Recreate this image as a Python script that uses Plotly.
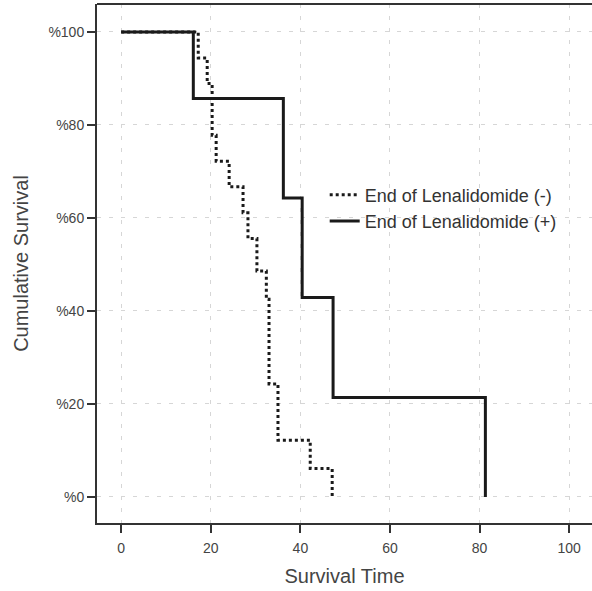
import plotly.graph_objects as go

# Kaplan-Meier step data
neg_time = [0, 17.2, 19.2, 20.3, 21.2, 24.1, 27.2, 28.3, 30.3, 32.4, 33.0, 35.0, 42.2, 47.1]
neg_surv = [100, 94.4, 88.9, 77.8, 72.2, 66.7, 61.1, 55.6, 48.6, 42.5, 24.3, 12.2, 6.1, 0]
pos_time = [0, 16.1, 36.2, 40.4, 47.3, 81.3]
pos_surv = [100, 85.7, 64.3, 42.9, 21.4, 0]

series_names = ["End of Lenalidomide (-)", "End of Lenalidomide (+)"]
x_ticks = [0, 20, 40, 60, 80, 100]
y_ticks = [0, 20, 40, 60, 80, 100]
y_tick_labels = ["%0", "%20", "%40", "%60", "%80", "%100"]

fig = go.Figure()
fig.add_trace(go.Scatter(x=neg_time, y=neg_surv, mode="lines", line_shape="hv",
                         name=series_names[0],
                         line=dict(color="#1a1a1a", width=3, dash="dot")))
fig.add_trace(go.Scatter(x=pos_time, y=pos_surv, mode="lines", line_shape="hv",
                         name=series_names[1],
                         line=dict(color="#1a1a1a", width=3)))

# top frame line
fig.add_shape(type="line", xref="paper", yref="paper", x0=0, x1=1, y0=1, y1=1,
              line=dict(color="#333333", width=2))

font_fam = "Liberation Sans, Arial, sans-serif"
grid_col = "#d6d6d6"
fig.update_layout(
    width=592, height=591,
    margin=dict(l=97, r=0, t=4, b=68),
    paper_bgcolor="white", plot_bgcolor="white",
    font=dict(family=font_fam, color="#444444"),
    legend=dict(x=0.46, y=0.607, xanchor="left", yanchor="middle",
                bgcolor="rgba(0,0,0,0)", font=dict(size=18, color="#333333"),
                tracegroupgap=0, itemwidth=30),
    xaxis=dict(range=[-5.4, 105.1], tickvals=x_ticks, ticks="outside", ticklen=8,
               tickwidth=2, tickcolor="#333333", showline=True, linewidth=2,
               linecolor="#333333", showgrid=True, gridcolor=grid_col,
               griddash="4px,8px", gridwidth=1, zeroline=False, automargin=False,
               ticklabelstandoff=3,
               tickfont=dict(size=14, color="#444444"),
               title=dict(text="Survival Time", font=dict(size=20, color="#444444"), standoff=14)),
    yaxis=dict(range=[-5.6, 106.0], tickvals=y_ticks, ticktext=y_tick_labels,
               ticks="outside", ticklen=8, tickwidth=2, tickcolor="#333333",
               showline=True, linewidth=2, linecolor="#333333", showgrid=True,
               gridcolor=grid_col, griddash="4px,8px", gridwidth=1, zeroline=False,
               automargin=False, ticklabelstandoff=0,
               tickfont=dict(size=14, color="#444444"),
               title=dict(text="Cumulative Survival", font=dict(size=20, color="#444444"), standoff=14)),
)

fig.write_html("out.html", config={"displayModeBar": False},
               post_script="document.body.style.margin='0';document.body.style.overflow='hidden';")
